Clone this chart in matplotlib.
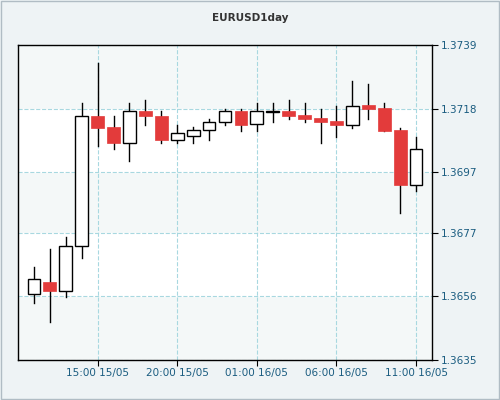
import matplotlib
matplotlib.use("Agg")
import matplotlib.pyplot as plt
from matplotlib.patches import Rectangle

hours = ["11:00 15/05", "12:00 15/05", "13:00 15/05", "14:00 15/05", "15:00 15/05",
         "16:00 15/05", "17:00 15/05", "18:00 15/05", "19:00 15/05", "20:00 15/05",
         "21:00 15/05", "22:00 15/05", "23:00 15/05", "00:00 16/05", "01:00 16/05",
         "02:00 16/05", "03:00 16/05", "04:00 16/05", "05:00 16/05", "06:00 16/05",
         "07:00 16/05", "08:00 16/05", "09:00 16/05", "10:00 16/05", "11:00 16/05"]
opens = [1.36568, 1.36609, 1.36578, 1.36727, 1.37157, 1.37118, 1.37067, 1.37172, 1.37157,
         1.37078, 1.37088, 1.37108, 1.37137, 1.37172, 1.37128, 1.37170, 1.37172, 1.37158,
         1.37148, 1.37138, 1.37126, 1.37191, 1.37181, 1.37109, 1.36928]
closes = [1.36617, 1.36577, 1.36727, 1.37157, 1.37116, 1.37067, 1.37171, 1.37156, 1.37077,
          1.37098, 1.37108, 1.37137, 1.37171, 1.37126, 1.37171, 1.37172, 1.37156, 1.37146,
          1.37136, 1.37126, 1.37190, 1.37179, 1.37106, 1.36928, 1.37048]
highs = [1.36656, 1.36717, 1.36755, 1.37200, 1.37331, 1.37157, 1.37200, 1.37210, 1.37172,
         1.37126, 1.37118, 1.37147, 1.37180, 1.37180, 1.37200, 1.37200, 1.37210, 1.37200,
         1.37180, 1.37190, 1.37270, 1.37260, 1.37200, 1.37116, 1.37087]
lows = [1.36537, 1.36474, 1.36557, 1.36686, 1.37056, 1.37047, 1.37007, 1.37126, 1.37067,
        1.37067, 1.37067, 1.37077, 1.37126, 1.37106, 1.37106, 1.37136, 1.37146, 1.37136,
        1.37067, 1.37087, 1.37116, 1.37146, 1.37106, 1.36835, 1.36908]
yticks = [1.3635, 1.3656, 1.3677, 1.3697, 1.3718, 1.3739]
xtick_idx = [4, 9, 14, 19, 24]

fig = plt.figure(figsize=(5, 4), dpi=100, facecolor="#eef3f5")
fig.patches.append(Rectangle((0.002, 0.002), 0.996, 0.996, transform=fig.transFigure,
                             fill=False, edgecolor="#b0bcc4", lw=1))
ax = fig.add_axes([0.036, 0.1, 0.828, 0.7875], facecolor="#f4f8f8")
ax.set_xlim(-1, 25)
ax.set_ylim(yticks[0], yticks[-1])

# alternating white bands
for lo, hi in [(yticks[1], yticks[2]), (yticks[3], yticks[4])]:
    ax.axhspan(lo, hi, color="white", zorder=0)

for i in range(len(opens)):
    o, c, h, l = opens[i], closes[i], highs[i], lows[i]
    ax.plot([i, i], [l, h], color="black", lw=1, zorder=2)
    bottom = min(o, c)
    height = max(abs(c - o), 0.000002)
    if c >= o:
        ax.add_patch(Rectangle((i - 0.4, bottom), 0.8, height, facecolor="white",
                               edgecolor="black", lw=1, zorder=3))
    else:
        ax.add_patch(Rectangle((i - 0.4, bottom), 0.8, height, facecolor="#e33b3b",
                               edgecolor="#e33b3b", lw=0.5, zorder=3))

ax.set_yticks(yticks)
ax.set_yticklabels(["%.4f" % v for v in yticks])
ax.set_xticks(xtick_idx)
ax.set_xticklabels([hours[i] for i in xtick_idx])
ax.yaxis.tick_right()
ax.tick_params(colors="#1a5c80", labelsize=7.5, length=4, pad=2)
ax.tick_params(axis="both", color="black")
ax.grid(True, color="#a8d8e0", ls="--", lw=0.8, zorder=1)
ax.set_axisbelow(True)
for s in ax.spines.values():
    s.set_color("black")
    s.set_linewidth(1)

fig.text(0.5, 0.955, "EURUSD1day", ha="center", va="center", fontsize=7.5,
         fontweight="bold", color="#333333")
fig.savefig("out.png", dpi=100, facecolor=fig.get_facecolor())
